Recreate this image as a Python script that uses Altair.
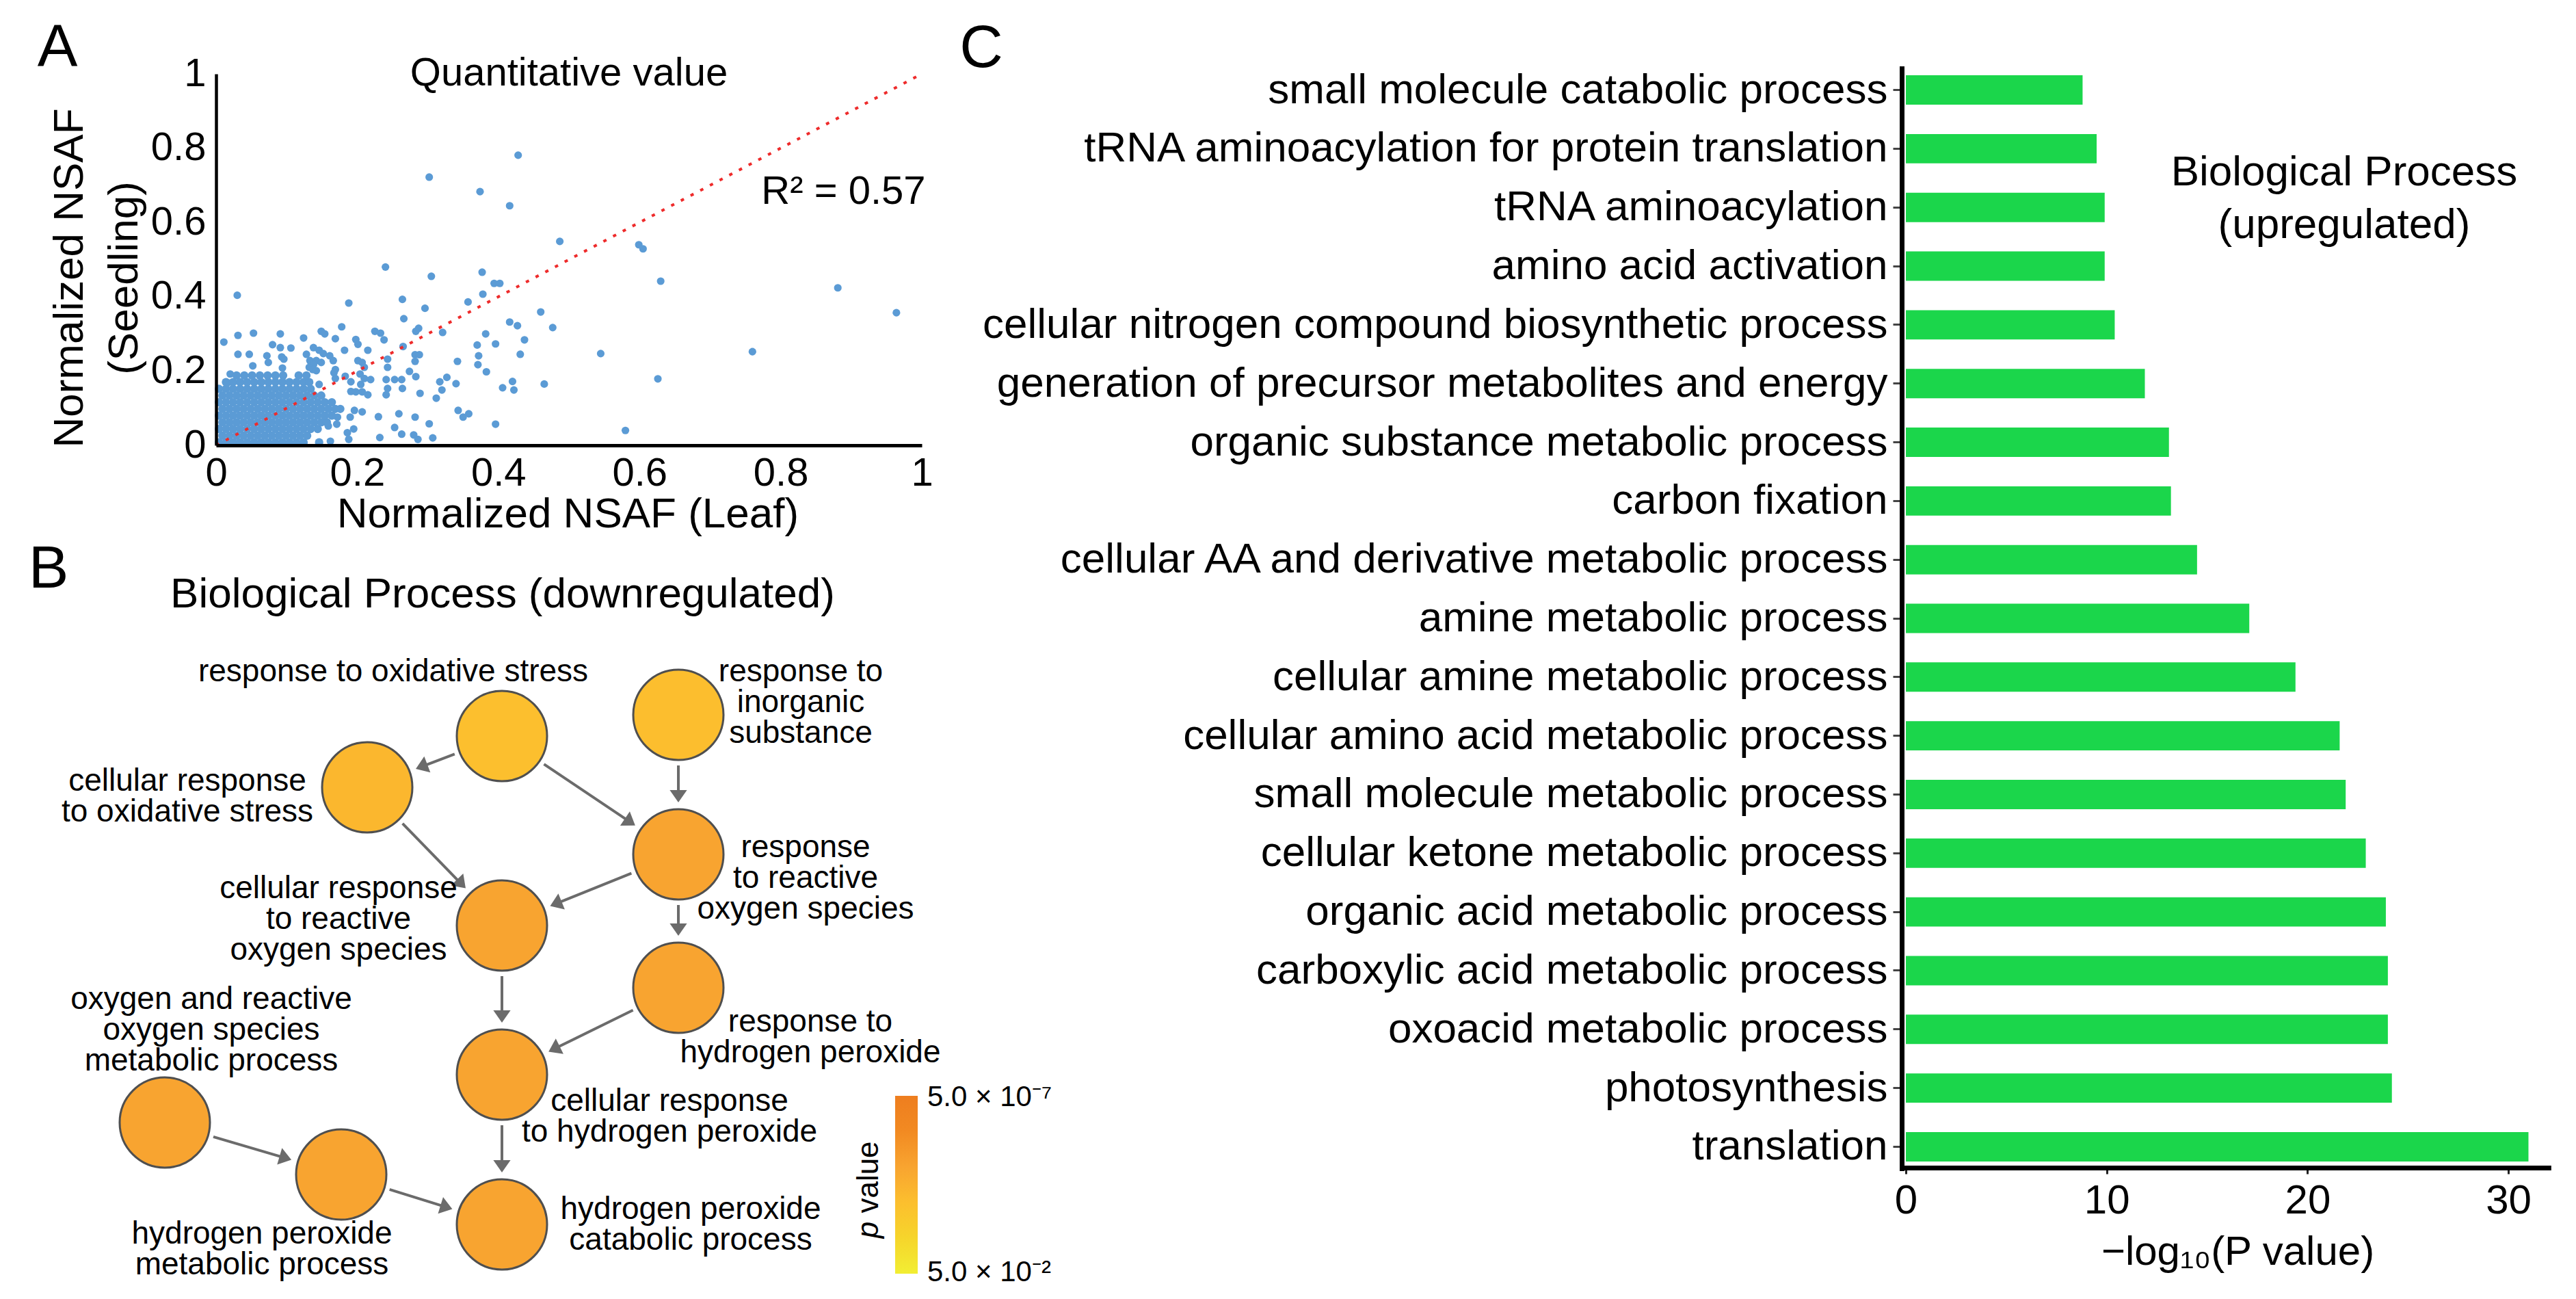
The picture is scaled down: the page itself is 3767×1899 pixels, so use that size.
import math
import altair as alt
import pandas as pd

FONT = "Liberation Sans"

# ======================= DATA =======================
# Panel A: (Normalized NSAF leaf, Normalized NSAF seedling)
A_POINTS = [
    (0.428, 0.781), (0.302, 0.722), (0.374, 0.683), (0.416, 0.645), (0.487, 0.549),
    (0.599, 0.540), (0.605, 0.529), (0.240, 0.480), (0.377, 0.466), (0.305, 0.455),
    (0.394, 0.436), (0.402, 0.436), (0.630, 0.442), (0.881, 0.424), (0.030, 0.404),
    (0.378, 0.407), (0.357, 0.386), (0.188, 0.383), (0.264, 0.393), (0.296, 0.369),
    (0.460, 0.359), (0.964, 0.357), (0.266, 0.341), (0.416, 0.332), (0.427, 0.322),
    (0.477, 0.317), (0.178, 0.319), (0.287, 0.315), (0.283, 0.307), (0.321, 0.304),
    (0.382, 0.300), (0.437, 0.284), (0.396, 0.273), (0.370, 0.270), (0.545, 0.247),
    (0.760, 0.252), (0.431, 0.245), (0.372, 0.241), (0.342, 0.226), (0.371, 0.217),
    (0.383, 0.198), (0.327, 0.183), (0.626, 0.179), (0.420, 0.172), (0.465, 0.165),
    (0.406, 0.155), (0.422, 0.149), (0.340, 0.166), (0.320, 0.149), (0.317, 0.171),
    (0.312, 0.127), (0.343, 0.094), (0.350, 0.076), (0.358, 0.085), (0.396, 0.057),
    (0.580, 0.040), (0.302, 0.058), (0.289, 0.140), (0.307, 0.020), (0.286, 0.016),
    (0.280, 0.028), (0.232, 0.021), (0.263, 0.030), (0.253, 0.048), (0.230, 0.077),
    (0.259, 0.085), (0.282, 0.076), (0.162, 0.011), (0.188, 0.016), (0.186, 0.034),
    (0.195, 0.044), (0.196, 0.094), (0.207, 0.090), (0.190, 0.076), (0.172, 0.076),
    (0.171, 0.057), (0.159, 0.052), (0.011, 0.278), (0.031, 0.296), (0.053, 0.302),
    (0.091, 0.300), (0.124, 0.289), (0.149, 0.307), (0.154, 0.300), (0.169, 0.287),
    (0.198, 0.285), (0.201, 0.272), (0.225, 0.307), (0.233, 0.302), (0.238, 0.284),
    (0.265, 0.266), (0.282, 0.244), (0.288, 0.244), (0.282, 0.226), (0.274, 0.199),
    (0.283, 0.185), (0.243, 0.232), (0.243, 0.210), (0.241, 0.177), (0.253, 0.177),
    (0.263, 0.177), (0.264, 0.153), (0.243, 0.153), (0.241, 0.136), (0.215, 0.256),
    (0.182, 0.256), (0.201, 0.228), (0.207, 0.223), (0.210, 0.210), (0.204, 0.192),
    (0.210, 0.180), (0.219, 0.177), (0.205, 0.164), (0.191, 0.145), (0.198, 0.144),
    (0.207, 0.144), (0.215, 0.136), (0.191, 0.171), (0.183, 0.186), (0.169, 0.204),
    (0.169, 0.180), (0.167, 0.195), (0.146, 0.164), (0.138, 0.263), (0.146, 0.256),
    (0.152, 0.247), (0.161, 0.241), (0.166, 0.228), (0.128, 0.245), (0.133, 0.228),
    (0.142, 0.228), (0.149, 0.223), (0.138, 0.217), (0.132, 0.210), (0.137, 0.204),
    (0.142, 0.201), (0.080, 0.271), (0.091, 0.263), (0.106, 0.262), (0.093, 0.238),
    (0.096, 0.232), (0.072, 0.241), (0.074, 0.223), (0.094, 0.208), (0.052, 0.214),
    (0.047, 0.245), (0.031, 0.245), (0.020, 0.192), (0.016, 0.168),
]
# dense cloud near the origin, read row by row (seedling value, leaf values)
CLUSTER_SEEDLING = [0.008, 0.026, 0.044, 0.062, 0.080, 0.098, 0.116, 0.134, 0.152, 0.170, 0.188]
CLUSTER_LEAF = [
    [0.004, 0.014, 0.024, 0.034, 0.044, 0.054, 0.064, 0.074, 0.084, 0.094, 0.104, 0.114, 0.124, 0.146],
    [0.009, 0.019, 0.029, 0.039, 0.049, 0.059, 0.069, 0.079, 0.089, 0.099, 0.109, 0.119, 0.129],
    [0.004, 0.014, 0.024, 0.034, 0.044, 0.054, 0.064, 0.074, 0.084, 0.094, 0.104, 0.114, 0.124, 0.134, 0.144],
    [0.009, 0.019, 0.029, 0.039, 0.049, 0.059, 0.069, 0.079, 0.089, 0.099, 0.109, 0.119, 0.129, 0.139, 0.149, 0.157],
    [0.004, 0.014, 0.024, 0.034, 0.044, 0.054, 0.064, 0.074, 0.084, 0.094, 0.104, 0.114, 0.124, 0.134, 0.144, 0.154, 0.164],
    [0.009, 0.019, 0.029, 0.039, 0.049, 0.059, 0.069, 0.079, 0.089, 0.099, 0.109, 0.119, 0.129, 0.139, 0.149, 0.159, 0.169, 0.176],
    [0.004, 0.014, 0.024, 0.034, 0.044, 0.054, 0.064, 0.074, 0.084, 0.094, 0.104, 0.114, 0.124, 0.134, 0.144, 0.154, 0.164],
    [0.009, 0.019, 0.029, 0.039, 0.049, 0.059, 0.069, 0.079, 0.089, 0.099, 0.109, 0.119, 0.129, 0.139, 0.149],
    [0.004, 0.014, 0.024, 0.034, 0.044, 0.054, 0.064, 0.074, 0.084, 0.094, 0.104, 0.114, 0.124, 0.134],
    [0.014, 0.024, 0.034, 0.044, 0.054, 0.064, 0.074, 0.084, 0.094, 0.104, 0.114, 0.124, 0.132],
    [0.029, 0.040, 0.051, 0.062, 0.073, 0.084, 0.095, 0.117, 0.128],
]
DIAG_LEAF = [0, 1]
DIAG_SEEDLING = [0, 1]
A_TITLE = "Quantitative value"
R2_TEXT = "R\u00b2 = 0.57"

# Panel B: GO network (downregulated)
NODE_TEXT = [
    "response to oxidative stress",
    "response to\ninorganic\nsubstance",
    "cellular response\nto oxidative stress",
    "response\nto reactive\noxygen species",
    "cellular response\nto reactive\noxygen species",
    "response to\nhydrogen peroxide",
    "cellular response\nto hydrogen peroxide",
    "oxygen and reactive\noxygen species\nmetabolic process",
    "hydrogen peroxide\nmetabolic process",
    "hydrogen peroxide\ncatabolic process",
]
NODE_NEGLOGP = [3.3, 3.35, 3.6, 4.3, 4.3, 4.3, 4.3, 4.3, 4.3, 4.3]
EDGES = [(0, 2), (0, 3), (1, 3), (2, 4), (3, 4), (3, 5), (4, 6), (5, 6), (6, 9), (7, 8), (8, 9)]
LEGEND_TEXT = ["5.0 \u00d7 10\u207b\u2077", "5.0 \u00d7 10\u207b\u00b2"]
PVAL_DOMAIN = [1.3, 2.3, 3.3, 4.3, 5.3, 6.3]
PVAL_COLORS = ["#F2EE33", "#F6D52B", "#FCBF2E", "#F8A430", "#F28A22", "#EE7E1F"]

# Panel C: upregulated biological processes, -log10(P)
C_TERMS = [
    "small molecule catabolic process",
    "tRNA aminoacylation for protein translation",
    "tRNA aminoacylation",
    "amino acid activation",
    "cellular nitrogen compound biosynthetic process",
    "generation of precursor metabolites and energy",
    "organic substance metabolic process",
    "carbon fixation",
    "cellular AA and derivative metabolic process",
    "amine metabolic process",
    "cellular amine metabolic process",
    "cellular amino acid metabolic process",
    "small molecule metabolic process",
    "cellular ketone metabolic process",
    "organic acid metabolic process",
    "carboxylic acid metabolic process",
    "oxoacid metabolic process",
    "photosynthesis",
    "translation",
]
C_VALUES = [8.8, 9.5, 9.9, 9.9, 10.4, 11.9, 13.1, 13.2, 14.5, 17.1, 19.4,
            21.6, 21.9, 22.9, 23.9, 24.0, 24.0, 24.2, 31.0]

# ======================= LAYOUT (image pixels) =======================
M = 8
W, H = 3745, 1880
def c(v):
    return v - M

def cxs():
    return alt.Scale(domain=[0, 3767], range=[-M, 3767 - M], nice=False, zero=False)

def cys():
    return alt.Scale(domain=[0, 1899], range=[-M, 1899 - M], nice=False, zero=False)

A_X0, A_X1, A_Y0, A_Y1 = 316, 1348, 651, 108
def sax():
    return alt.Scale(domain=[0, 1], range=[c(A_X0), c(A_X1)], nice=False, zero=False)
def say():
    return alt.Scale(domain=[0, 1], range=[c(A_Y0), c(A_Y1)], nice=False, zero=False)

C_X0, C_PX = 2787, 29.37
C_XMAX = 32
C_YTOP, C_YBOT, C_AXIS_X = 100, 1708, 2781

NODE_X = [734, 992, 537, 992, 734, 992, 734, 241, 499, 734]
NODE_Y = [1076, 1045, 1151, 1249, 1353, 1444, 1571, 1641, 1717, 1790]
NODE_R = 66
# position of the first line of each node label
LABEL_X = [575, 1171, 274, 1178, 495, 1185, 979, 309, 383, 1010]
LABEL_Y = [982, 982, 1142, 1239, 1299, 1494, 1610, 1461, 1804, 1768]

# ======================= PANEL A =======================
df_out = pd.DataFrame(A_POINTS, columns=["leaf", "seedling"])
clu = [(xv, yv) for yv, row in zip(CLUSTER_SEEDLING, CLUSTER_LEAF) for xv in row]
df_clu = pd.DataFrame(clu, columns=["leaf", "seedling"])

ticks01 = [0, 0.2, 0.4, 0.6, 0.8, 1]
axA_x = alt.Axis(orient="bottom", offset=c(A_Y0) - H, values=ticks01, format="~g",
                 ticks=False, grid=False, domainColor="black", domainWidth=5,
                 labelFont=FONT, labelFontSize=58, labelColor="black", labelPadding=12,
                 labelFlush=False, labelOverlap=False,
                 title="Normalized NSAF (Leaf)", titleFont=FONT, titleFontSize=62,
                 titleFontWeight="normal", titleColor="black", titleX=c(830),
                 titleY=751 - A_Y0, titleBaseline="middle", titleAlign="center", zindex=1)
axA_y = alt.Axis(orient="left", offset=-c(A_X0), values=ticks01, format="~g",
                 ticks=False, grid=False, domainColor="black", domainWidth=4.5,
                 labelFont=FONT, labelFontSize=58, labelColor="black", labelPadding=15,
                 labelFlush=False, labelOverlap=False,
                 title=["Normalized NSAF", "(Seedling)"], titleFont=FONT, titleFontSize=62,
                 titleFontWeight="normal", titleColor="black", titleLineHeight=80,
                 titleAngle=270, titleX=101 - A_X0, titleY=c(406), titleBaseline="middle",
                 titleAlign="center", zindex=1)

BLUE = "#5B9BD5"
points_out = alt.Chart(df_out).mark_circle(size=125, color=BLUE, opacity=1).encode(
    x=alt.X("leaf:Q", scale=sax(), axis=axA_x),
    y=alt.Y("seedling:Q", scale=say(), axis=axA_y),
)
points_clu = alt.Chart(df_clu).mark_circle(size=150, color=BLUE, opacity=1).encode(
    x=alt.X("leaf:Q", scale=sax(), axis=None),
    y=alt.Y("seedling:Q", scale=say(), axis=None),
)
diag = alt.Chart(pd.DataFrame({"leaf": DIAG_LEAF, "seedling": DIAG_SEEDLING})).mark_line(
    color="#EE2B2B", strokeWidth=4, strokeDash=[5, 11]).encode(
    x=alt.X("leaf:Q", scale=sax(), axis=None), y=alt.Y("seedling:Q", scale=say(), axis=None))
a_texts = alt.Chart(pd.DataFrame({"leaf": [0.5, 0.889], "seedling": [1.0, 0.681],
                                  "label": [A_TITLE, R2_TEXT]})).mark_text(
    font=FONT, fontSize=58, color="black", align="center", baseline="middle").encode(
    x=alt.X("leaf:Q", scale=sax(), axis=None), y=alt.Y("seedling:Q", scale=say(), axis=None),
    text="label:N")

# ======================= PANEL C =======================
df_c = pd.DataFrame({"term": C_TERMS, "value": C_VALUES})
axC_y = alt.Axis(orient="left", offset=-c(C_AXIS_X), grid=False, domainColor="black",
                 domainWidth=7, domainCap="square", ticks=True, tickSize=13, tickWidth=3,
                 tickColor="#444444", labelFont=FONT, labelFontSize=62, labelColor="black",
                 labelPadding=8, labelLimit=3000, labelOverlap=False, title=None, zindex=1)
axC_x = alt.Axis(orient="bottom", offset=c(1707) - H, values=[0, 10, 20, 30], format="d",
                 grid=False, domainColor="black", domainWidth=7, domainCap="square",
                 tickSize=9, tickWidth=3, tickColor="#222222", labelFont=FONT,
                 labelFontSize=60, labelColor="black", labelPadding=10, labelFlush=False,
                 labelOverlap=False, title="\u2212log\u2081\u2080(P value)", titleFont=FONT,
                 titleFontSize=60, titleFontWeight="normal", titleColor="black",
                 titleX=c(3272), titleY=1830 - 1707, titleBaseline="middle",
                 titleAlign="center", zindex=1)
bars = alt.Chart(df_c).mark_bar(color="#1BD64B").encode(
    y=alt.Y("term:N", sort=C_TERMS,
            scale=alt.Scale(domain=C_TERMS, range=[c(C_YTOP), c(C_YBOT)],
                            paddingInner=0.5, paddingOuter=0.117),
            axis=axC_y),
    x=alt.X("value:Q", scale=alt.Scale(domain=[0, C_XMAX],
                                        range=[c(C_X0), c(C_X0 + C_XMAX * C_PX)],
                                        nice=False, zero=False), axis=axC_x),
)

# ======================= CANVAS (panel B + labels) =======================
def xy(**extra):
    enc = dict(x=alt.X("x:Q", scale=cxs(), axis=None), y=alt.Y("y:Q", scale=cys(), axis=None))
    enc.update(extra)
    return enc

def texts(labels, xs, ys, size, **mark):
    df = pd.DataFrame({"x": xs, "y": ys, "label": labels})
    return alt.Chart(df).mark_text(font=FONT, fontSize=size, color="black", **mark).encode(
        **xy(text="label:N"))

HEAD = 18
edge_rows, head_rows = [], []
for s, t in EDGES:
    x0, y0, x1, y1 = NODE_X[s], NODE_Y[s], NODE_X[t], NODE_Y[t]
    L = math.hypot(x1 - x0, y1 - y0)
    ux, uy = (x1 - x0) / L, (y1 - y0) / L
    sx, sy = x0 + ux * (NODE_R + 8), y0 + uy * (NODE_R + 8)
    tx, ty = x1 - ux * (NODE_R + 10), y1 - uy * (NODE_R + 10)
    edge_rows.append({"x": sx, "y": sy, "x2": tx - ux * HEAD * 0.8, "y2": ty - uy * HEAD * 0.8})
    head_rows.append({"x": tx - ux * HEAD / 2, "y": ty - uy * HEAD / 2,
                      "angle": math.degrees(math.atan2(ux, -uy)) % 360})

edges = alt.Chart(pd.DataFrame(edge_rows)).mark_rule(color="#6B6B6B", strokeWidth=4).encode(
    **xy(x2="x2:Q", y2="y2:Q"))
heads = alt.Chart(pd.DataFrame(head_rows)).mark_point(
    shape="M-0.7,0.5L0,-0.5L0.7,0.5Z", filled=True, color="#6B6B6B", opacity=1,
    size=(2 * HEAD) ** 2).encode(**xy(angle=alt.Angle("angle:Q", scale=None)))

df_nodes = pd.DataFrame({"x": NODE_X, "y": NODE_Y, "p": NODE_NEGLOGP})
nodes = alt.Chart(df_nodes).mark_point(shape="circle", filled=True, opacity=1,
                                       size=(2 * NODE_R) ** 2, stroke="#4F4F4F",
                                       strokeWidth=3).encode(
    **xy(fill=alt.Fill("p:Q", scale=alt.Scale(domain=PVAL_DOMAIN, range=PVAL_COLORS),
                       legend=None)))
node_labels = texts(NODE_TEXT, LABEL_X, LABEL_Y, 46, align="center", baseline="middle",
                    lineBreak="\n", lineHeight=45)

grad = alt.LinearGradient(
    gradient="linear",
    stops=[alt.GradientStop(offset=(v - PVAL_DOMAIN[0]) / (PVAL_DOMAIN[-1] - PVAL_DOMAIN[0]),
                            color=col) for v, col in zip(PVAL_DOMAIN, PVAL_COLORS)],
    x1=0, x2=0, y1=1, y2=0)
legend_bar = alt.Chart(pd.DataFrame({"x": [1309], "x2": [1342], "y": [1602], "y2": [1862]})
                       ).mark_rect(fill=grad).encode(**xy(x2="x2:Q", y2="y2:Q"))
legend_labels = texts(LEGEND_TEXT, [1356, 1356], [1604, 1860], 42, align="left",
                      baseline="middle")
p_italic = texts(["p"], [1271], [1798], 44, align="center", baseline="middle", angle=270,
                 fontStyle="italic")
p_value = texts(["value"], [1271], [1721], 44, align="center", baseline="middle", angle=270)

letters = texts(["A", "B", "C"], [84, 71, 1435], [71, 833, 72], 88, align="center",
                baseline="middle")
title_b = texts(["Biological Process (downregulated)"], [735], [869], 62, align="center",
                baseline="middle")
title_c = texts(["Biological Process\n(upregulated)"], [3428], [252], 62, align="center",
                baseline="middle", lineBreak="\n", lineHeight=77)

chart = alt.layer(
    points_out, points_clu, diag, a_texts, bars,
    edges, heads, nodes, node_labels, legend_bar, legend_labels, p_italic, p_value,
    letters, title_b, title_c,
).resolve_scale(x="independent", y="independent").properties(
    width=W, height=H, autosize=alt.AutoSizeParams(type="none"), padding=0,
    background="white").configure_view(strokeWidth=0)

chart.save("out.html", embed_options={"renderer": "svg", "actions": False})
